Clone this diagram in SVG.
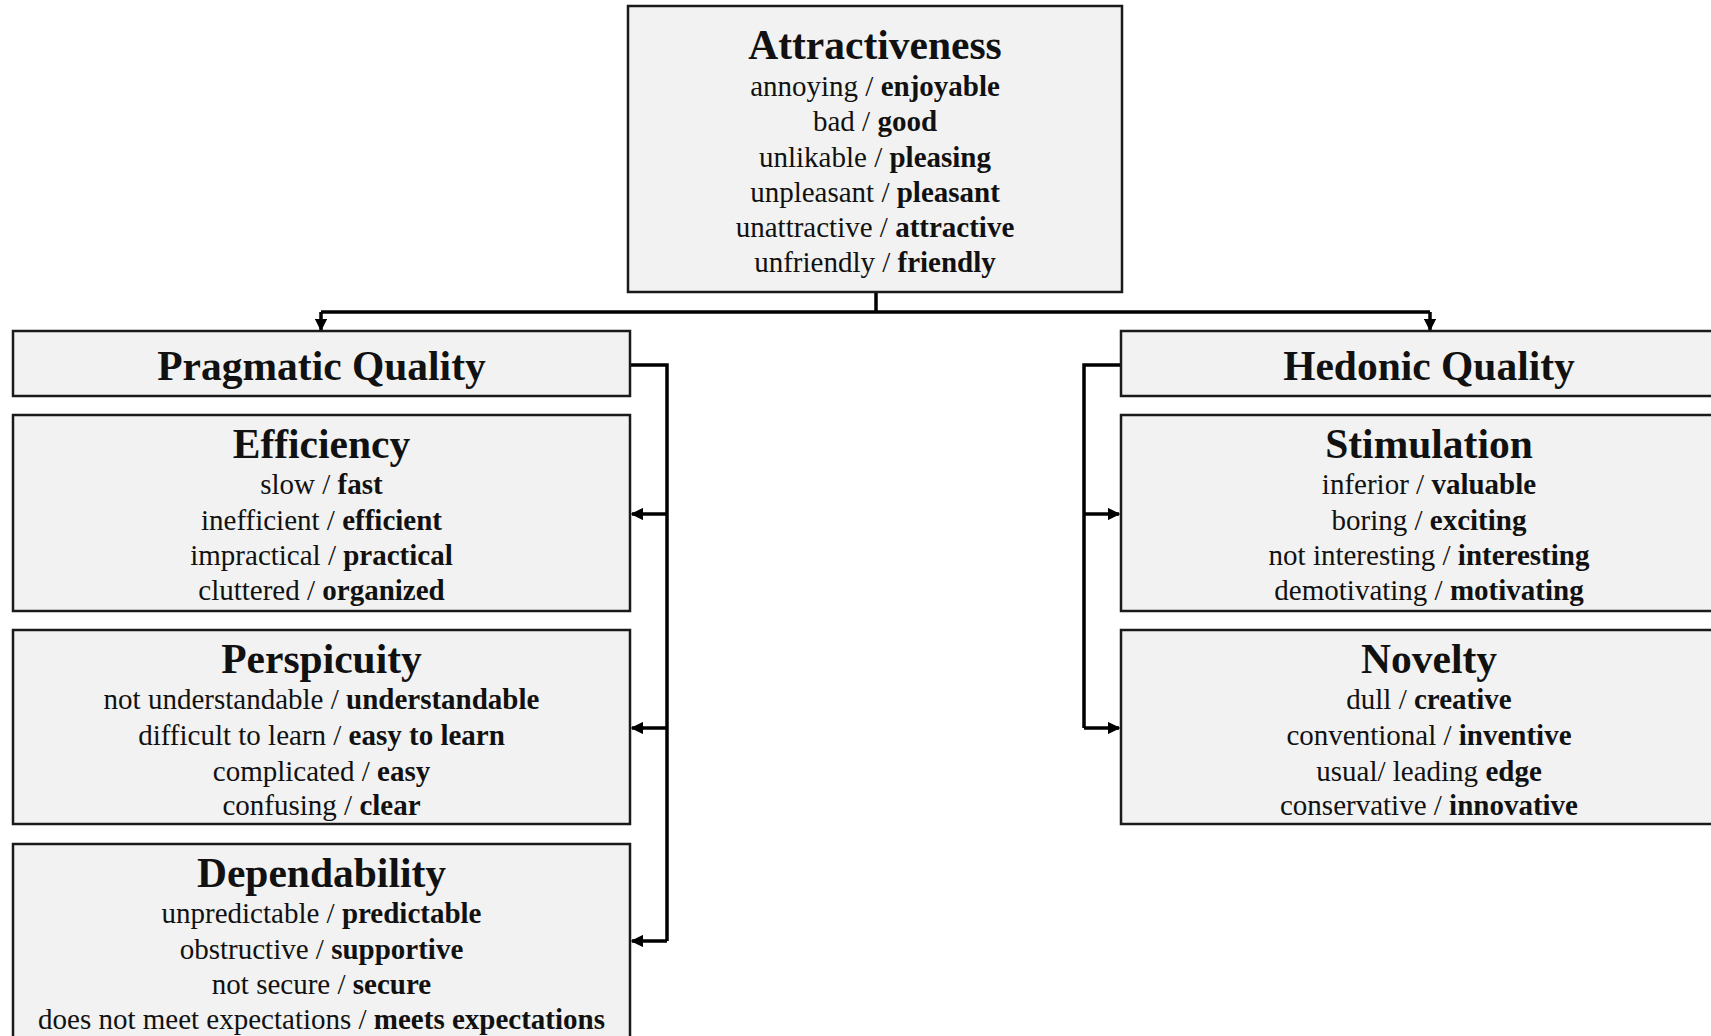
<svg xmlns="http://www.w3.org/2000/svg" width="1711" height="1036" viewBox="0 0 1711 1036">
  <style>
    .box { fill: #f2f2f2; stroke: #1a1a1a; stroke-width: 2.5; }
    text { font-family: "Liberation Serif", "Times New Roman", serif; fill: #111; text-anchor: middle; }
    .title { font-size: 41.5px; font-weight: bold; }
    .item { font-size: 29px; }
    .item tspan { font-weight: bold; }
    .wire { fill: none; stroke: #000; stroke-width: 3.5; }
  </style>
  <defs>
    <marker id="arrow" viewBox="0 0 10 10" refX="9" refY="5" markerWidth="3.6" markerHeight="3.6" orient="auto" markerUnits="strokeWidth">
      <path d="M0,0 L10,5 L0,10 Z" fill="#000"/>
    </marker>
  </defs>
  <rect width="1711" height="1036" fill="#fff"/>

  <!-- connectors -->
  <g id="connectors">
    <path class="wire" d="M876,292 V312"/>
    <path class="wire" d="M321,312 H1430"/>
    <path class="wire" d="M321,312 V330" marker-end="url(#arrow)"/>
    <path class="wire" d="M1430,312 V330" marker-end="url(#arrow)"/>
    <!-- pragmatic side -->
    <path class="wire" d="M630,365 H667 V941"/>
    <path class="wire" d="M667,514 H632" marker-end="url(#arrow)"/>
    <path class="wire" d="M667,728 H632" marker-end="url(#arrow)"/>
    <path class="wire" d="M667,941 H632" marker-end="url(#arrow)"/>
    <!-- hedonic side -->
    <path class="wire" d="M1121,365 H1084 V728"/>
    <path class="wire" d="M1084,514 H1119" marker-end="url(#arrow)"/>
    <path class="wire" d="M1084,728 H1119" marker-end="url(#arrow)"/>
  </g>

  <g id="attractiveness">
    <rect class="box" x="628" y="6" width="494" height="286"/>
    <text class="title" x="875" y="59">Attractiveness</text>
    <text class="item" x="875" y="96">annoying / <tspan>enjoyable</tspan></text>
    <text class="item" x="875" y="131">bad / <tspan>good</tspan></text>
    <text class="item" x="875" y="167">unlikable / <tspan>pleasing</tspan></text>
    <text class="item" x="875" y="202">unpleasant / <tspan>pleasant</tspan></text>
    <text class="item" x="875" y="237">unattractive / <tspan>attractive</tspan></text>
    <text class="item" x="875" y="272">unfriendly / <tspan>friendly</tspan></text>
  </g>

  <g id="pragmatic-quality">
    <rect class="box" x="13" y="331" width="617" height="65"/>
    <text class="title" x="321.5" y="380">Pragmatic Quality</text>
  </g>

  <g id="efficiency">
    <rect class="box" x="13" y="415" width="617" height="196"/>
    <text class="title" x="321.5" y="458">Efficiency</text>
    <text class="item" x="321.5" y="494">slow / <tspan>fast</tspan></text>
    <text class="item" x="321.5" y="530">inefficient / <tspan>efficient</tspan></text>
    <text class="item" x="321.5" y="565">impractical / <tspan>practical</tspan></text>
    <text class="item" x="321.5" y="600">cluttered / <tspan>organized</tspan></text>
  </g>

  <g id="perspicuity">
    <rect class="box" x="13" y="630" width="617" height="194"/>
    <text class="title" x="321.5" y="673">Perspicuity</text>
    <text class="item" x="321.5" y="709">not understandable / <tspan>understandable</tspan></text>
    <text class="item" x="321.5" y="745">difficult to learn / <tspan>easy to learn</tspan></text>
    <text class="item" x="321.5" y="781">complicated / <tspan>easy</tspan></text>
    <text class="item" x="321.5" y="815">confusing / <tspan>clear</tspan></text>
  </g>

  <g id="dependability">
    <rect class="box" x="13" y="844" width="617" height="210"/>
    <text class="title" x="321.5" y="887">Dependability</text>
    <text class="item" x="321.5" y="923">unpredictable / <tspan>predictable</tspan></text>
    <text class="item" x="321.5" y="959">obstructive / <tspan>supportive</tspan></text>
    <text class="item" x="321.5" y="994">not secure / <tspan>secure</tspan></text>
    <text class="item" x="321.5" y="1029">does not meet expectations / <tspan>meets expectations</tspan></text>
  </g>

  <g id="hedonic-quality">
    <rect class="box" x="1121" y="331" width="617" height="65"/>
    <text class="title" x="1429" y="380">Hedonic Quality</text>
  </g>

  <g id="stimulation">
    <rect class="box" x="1121" y="415" width="617" height="196"/>
    <text class="title" x="1429" y="458">Stimulation</text>
    <text class="item" x="1429" y="494">inferior / <tspan>valuable</tspan></text>
    <text class="item" x="1429" y="530">boring / <tspan>exciting</tspan></text>
    <text class="item" x="1429" y="565">not interesting / <tspan>interesting</tspan></text>
    <text class="item" x="1429" y="600">demotivating / <tspan>motivating</tspan></text>
  </g>

  <g id="novelty">
    <rect class="box" x="1121" y="630" width="617" height="194"/>
    <text class="title" x="1429" y="673">Novelty</text>
    <text class="item" x="1429" y="709">dull / <tspan>creative</tspan></text>
    <text class="item" x="1429" y="745">conventional / <tspan>inventive</tspan></text>
    <text class="item" x="1429" y="781">usual/ leading <tspan>edge</tspan></text>
    <text class="item" x="1429" y="815">conservative / <tspan>innovative</tspan></text>
  </g>
</svg>
